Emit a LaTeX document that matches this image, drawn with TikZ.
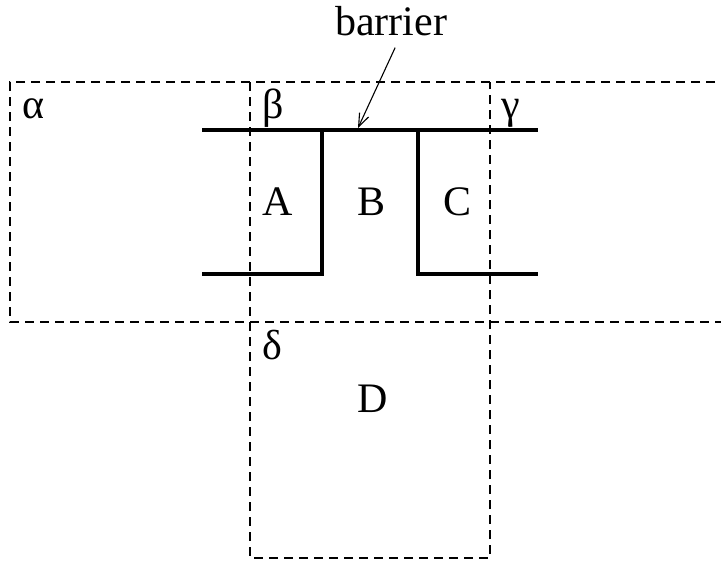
\documentclass[tikz,border=0pt]{standalone}
\usepackage{fontspec}
\setmainfont{Liberation Serif}
\usetikzlibrary{arrows.meta}
\begin{document}
\begin{tikzpicture}[x=1pt,y=-1pt,
  lbl/.style={anchor=base west,inner sep=0pt,font=\fontsize{42}{48}\selectfont},
  region/.style={dashed,line width=1.2pt,dash pattern=on 9pt off 6pt},
  wall/.style={line width=4pt,line cap=butt,line join=miter},
  arr/.style={line width=1.1pt,-{Straight Barb[length=13pt,width=10pt]}}]
\useasboundingbox (0,0) rectangle (721,563);
\clip (0,0) rectangle (721,563);
% regions
\coordinate (tl) at (10,82);
\coordinate (tr) at (730,82);
\coordinate (ml) at (10,322);
\coordinate (mr) at (730,322);
\coordinate (b1t) at (250,82);
\coordinate (b1b) at (250,558);
\coordinate (b2t) at (490,82);
\coordinate (b2b) at (490,558);
\draw[region] (tr) -- (tl) -- (ml) -- (mr);
\draw[region] (b1t) -- (b1b) -- (b2b) -- (b2t);
% walls
\coordinate (w1) at (202,130);
\coordinate (w2) at (538,130);
\coordinate (w3) at (202,274);
\coordinate (w4) at (322,274);
\coordinate (w5) at (322,130);
\coordinate (w6) at (418,130);
\coordinate (w7) at (418,274);
\coordinate (w8) at (538,274);
\draw[wall] (w1) -- (w2);
\draw[wall] (w3) -- (w4) -- (w5);
\draw[wall] (w6) -- (w7) -- (w8);
% labels
\node[lbl] (alpha) at (22,118) {α};
\node[lbl] (beta) at (262,118) {β};
\node[lbl] (gamma) at (501,118) {γ};
\node[lbl] (A) at (262,215) {A};
\node[lbl] (B) at (357,215) {B};
\node[lbl] (C) at (443,215) {C};
\node[lbl] (delta) at (262,359) {δ};
\node[lbl] (D) at (357,412) {D};
\node[lbl] (barrier) at (335,35) {barrier};
\coordinate (tip) at (358,128);
\draw[arr] ([xshift=4pt,yshift=-12pt]barrier.south) -- (tip);
\end{tikzpicture}
\end{document}
